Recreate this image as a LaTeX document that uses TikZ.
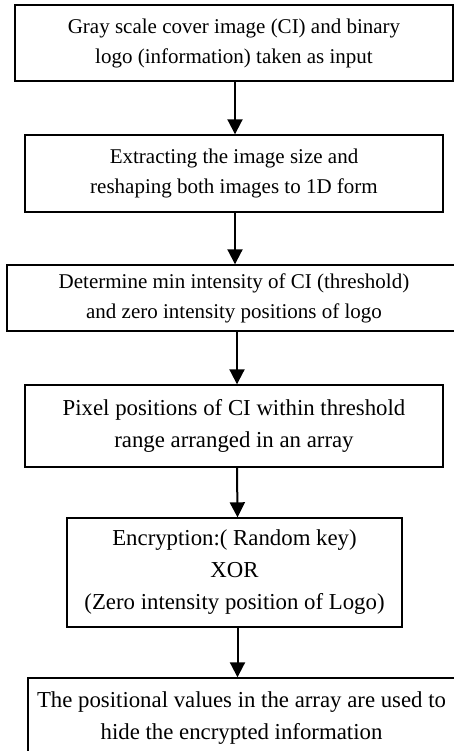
\documentclass[tikz,border=0pt]{standalone}
\usepackage{fontspec}
\setmainfont{Liberation Serif}
\usetikzlibrary{arrows.meta}
\newcommand{\boxfont}{\fontsize{21}{30}\selectfont}
\newcommand{\bigboxfont}{\fontsize{22.8}{32}\selectfont}

\begin{document}
\begin{tikzpicture}[x=1pt,y=1pt,
   stepbox/.style={draw=black,line width=1.4pt,align=center,inner sep=0pt,font=\boxfont},
   bigstep/.style={stepbox,font=\bigboxfont},
   flow/.style={line width=2pt,-{Triangle[width=15pt,length=15pt]}}]
   \useasboundingbox (0,0) rectangle (454,-751);
   \node[stepbox,minimum width=438,minimum height=76] (input) at (234,-43)
      {Gray scale cover image (CI) and binary\\logo (information) taken as input};
   \node[stepbox,minimum width=418,minimum height=77] (reshape) at (234,-173.5)
      {Extracting the image size and\\reshaping both images to 1D form};
   \node[stepbox,minimum width=454,minimum height=66] (thresh) at (234,-298)
      {Determine min intensity of CI (threshold)\\and zero intensity positions of logo};
   \node[bigstep,minimum width=418,minimum height=82] (pixels) at (234,-426)
      {Pixel positions of CI within threshold\\range arranged in an array};
   \node[bigstep,minimum width=335,minimum height=109] (encrypt) at (234.5,-572.5)
      {Encryption:( Random key)\\XOR\\(Zero intensity position of Logo)};
   \node[bigstep,minimum width=427,minimum height=80] (hide) at (241.5,-718)
      {The positional values in the array are used to\\hide the encrypted information};
   \draw[flow] ([xshift=1pt]input.south) -- ([xshift=1pt]reshape.north);
   \draw[flow] ([xshift=1pt]reshape.south) -- ([xshift=1pt]thresh.north);
   \draw[flow] ([xshift=3pt]thresh.south) -- ([xshift=3pt]pixels.north);
   \draw[flow] ([xshift=3pt]pixels.south) -- ([xshift=3pt]encrypt.north);
   \draw[flow] ([xshift=3pt]encrypt.south) -- ([xshift=3pt]encrypt.south |- hide.north);
\end{tikzpicture}
\end{document}
